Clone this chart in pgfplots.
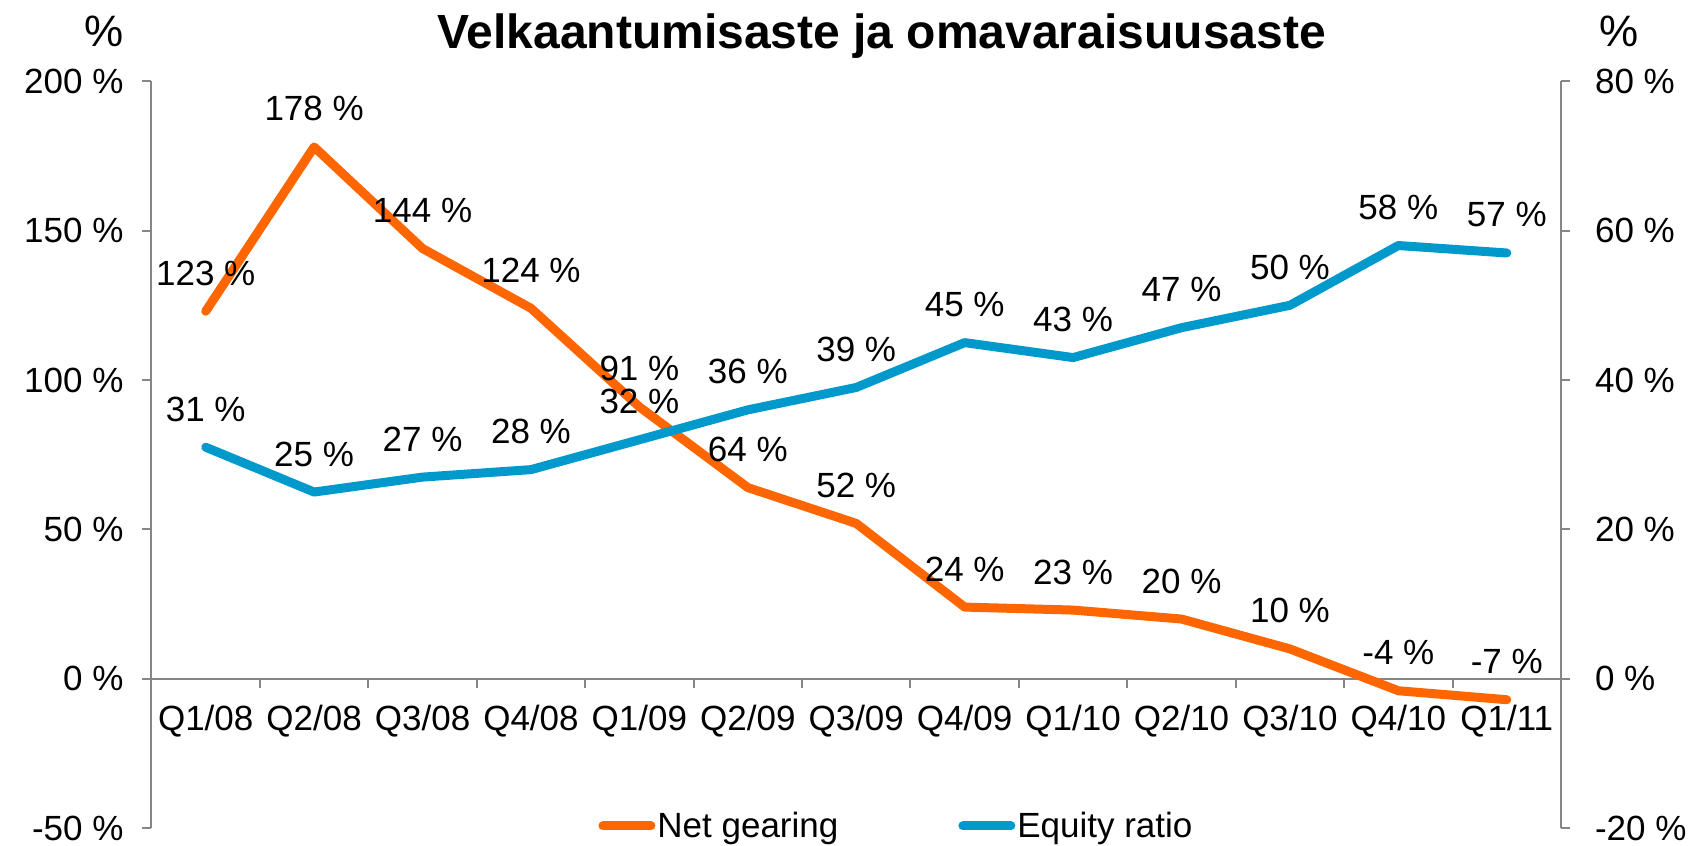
\documentclass[border=0pt]{standalone}
\usepackage{pgfplots}
\pgfplotsset{compat=1.18}
\usepackage{fontspec}
\setmainfont{Liberation Sans}

\definecolor{gearing}{HTML}{FF6600}
\definecolor{equity}{HTML}{0099CC}
\definecolor{axisgray}{HTML}{868686}
\newcommand{\lblfont}{\fontsize{17.5}{20}\selectfont}

\pgfplotsset{
  base/.style={
    scale only axis, width=704.75pt, height=373.5pt,
    xmin=-0.5, xmax=12.5,
    clip=false,
    axis line style={axisgray, line width=1pt},
    tick style={axisgray, line width=1pt},
    tick align=outside,
    major tick length=4.5pt,
    ticklabel style={font=\lblfont, text=black},
    nodes near coords={\pgfmathprintnumber[assume math mode=true]{\pgfplotspointmeta}~\%},
    every node near coord/.append style={font=\lblfont, text=black, anchor=center, yshift=19pt},
  },
}

\begin{document}
\begin{tikzpicture}
% left axis: net gearing
\begin{axis}[base,
  ymin=-50, ymax=200,
  axis y line*=left,
  axis x line*=middle,
  xtick align=outside,
  hide obscured x ticks=false,
  ytick={-50,0,50,100,150,200},
  yticklabels={-50 \%, 0 \%, 50 \%, 100 \%, 150 \%, 200 \%},
  yticklabel style={xshift=-6pt},
  xtick={-0.5,0.5,...,12.5},
  xticklabels={Q1/08,Q2/08,Q3/08,Q4/08,Q1/09,Q2/09,Q3/09,Q4/09,Q1/10,Q2/10,Q3/10,Q4/10,Q1/11,{}},
  xticklabel style={anchor=north, xshift=27.1pt, yshift=-5pt},
]
\addplot[gearing, line width=4.5pt, line join=round, line cap=round] coordinates {
  (0,123) (1,178) (2,144) (3,124) (4,91) (5,64) (6,52)
  (7,24) (8,23) (9,20) (10,10) (11,-4) (12,-7)
};
\coordinate (sw) at (rel axis cs:0,0);
\coordinate (ne) at (rel axis cs:1,1);
\node[anchor=base, font=\fontsize{24}{28}\selectfont\bfseries] at ([yshift=16.25pt]rel axis cs:0.518,1) {Velkaantumisaste ja omavaraisuusaste};
\node[anchor=base, font=\fontsize{22}{26}\selectfont] at ([xshift=-23.75pt, yshift=17.4pt]rel axis cs:0,1) {\%};
\node[anchor=base, font=\fontsize{22}{26}\selectfont] at ([xshift=29pt, yshift=17.4pt]rel axis cs:1,1) {\%};
\end{axis}
% right axis: equity ratio
\begin{axis}[base,
  ymin=-20, ymax=80,
  axis y line*=right,
  axis x line=none,
  ytick={-20,0,20,40,60,80},
  yticklabels={-20 \%, 0 \%, 20 \%, 40 \%, 60 \%, 80 \%},
  yticklabel style={xshift=9pt},
  legend columns=2,
  legend image code/.code={\draw[#1, line cap=round] (0pt,0pt) -- (24pt,0pt);},
  legend style={at={(0.3168,0.003)}, anchor=west, draw=none, fill=none,
    inner xsep=0pt, inner ysep=0pt, font=\lblfont,
    nodes={inner sep=1pt, text=black},
    /tikz/every even column/.append style={column sep=59pt}},
]
\addlegendimage{gearing, line width=4.5pt}
\addlegendentry{Net gearing}
\addplot[equity, line width=4.5pt, line join=round, line cap=round] coordinates {
  (0,31) (1,25) (2,27) (3,28) (4,32) (5,36) (6,39)
  (7,45) (8,43) (9,47) (10,50) (11,58) (12,57)
};
\addlegendentry{Equity ratio}
\end{axis}
\pgfresetboundingbox
\path[use as bounding box] ([xshift=-75.75pt, yshift=-8.5pt]sw) rectangle ([xshift=68pt, yshift=40.6pt]ne);
\end{tikzpicture}
\end{document}
